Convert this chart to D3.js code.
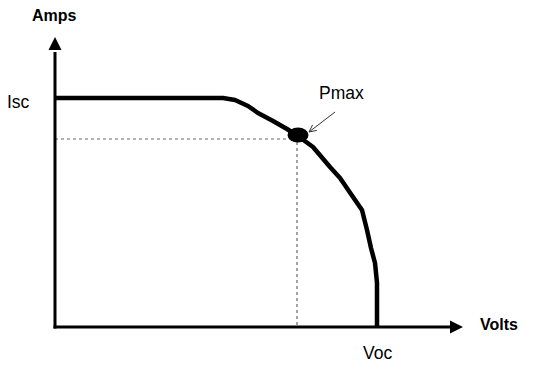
<!DOCTYPE html>
<html>
<head>
<meta charset="utf-8">
<script src="https://cdn.jsdelivr.net/npm/d3@7"></script>
<style>
html,body{margin:0;padding:0;background:#fff;}
text{font-family:"Liberation Sans",Arial,sans-serif;}
</style>
</head>
<body>
<svg id="chart" width="540" height="369"></svg>
<script>
// Data (arbitrary units: volts along x, amps along y)
const voltage = [0, 168, 180, 193, 203, 218, 232, 243, 258, 275, 285, 298, 307, 312, 316, 320, 322, 322];
const current = [229, 229, 227, 221, 214, 206, 198, 191, 180, 160, 149, 130, 117, 97, 79, 64, 44, 0];
const pmax = {v: 243, i: 191};
const axisLabels = {x: "Volts", y: "Amps"};
const markerLabels = {isc: "Isc", voc: "Voc", pmax: "Pmax"};
const isc = 229, voc = 322;

const svg = d3.select("#chart");
const x = d3.scaleLinear().domain([0, 410]).range([55, 465]);
const y = d3.scaleLinear().domain([0, 290]).range([327, 37]);

// dashed guides
svg.append("line").attr("x1", x(0)).attr("x2", x(pmax.v)).attr("y1", y(pmax.i) + 3).attr("y2", y(pmax.i) + 3)
  .attr("stroke", "#666").attr("stroke-width", 1.2).attr("stroke-dasharray", "3,3");
svg.append("line").attr("x1", x(pmax.v) - 1).attr("x2", x(pmax.v) - 1).attr("y1", y(pmax.i)).attr("y2", y(0))
  .attr("stroke", "#666").attr("stroke-width", 1.2).attr("stroke-dasharray", "3,3");

// axes
svg.append("line").attr("x1", x(0)).attr("x2", x(0)).attr("y1", y(0) + 1.5).attr("y2", y(275))
  .attr("stroke", "#000").attr("stroke-width", 3);
svg.append("line").attr("x1", x(0) - 1.5).attr("x2", x(395)).attr("y1", y(0)).attr("y2", y(0))
  .attr("stroke", "#000").attr("stroke-width", 3);
// arrowheads
svg.append("path").attr("d", `M${x(0)},${y(290)} L${x(0)-6.5},${y(277)} L${x(0)+6.5},${y(277)} Z`).attr("fill", "#000");
svg.append("path").attr("d", `M${x(408)},${y(0)} L${x(395)},${y(0)-6.5} L${x(395)},${y(0)+6.5} Z`).attr("fill", "#000");

// IV curve
const pts = voltage.map((v, k) => [v, current[k]]);
const line = d3.line().x(d => x(d[0])).y(d => y(d[1])).curve(d3.curveLinear);
svg.append("path").datum(pts).attr("d", line).attr("fill", "none")
  .attr("stroke", "#000").attr("stroke-width", 4.5).attr("stroke-linejoin", "round").attr("stroke-linecap", "butt");

// Pmax dot
svg.append("ellipse").attr("cx", x(pmax.v)).attr("cy", y(pmax.i) - 1).attr("rx", 10.5).attr("ry", 7.5).attr("fill", "#000");

// pointer arrow
const ax1 = x(pmax.v) + 37, ay1 = y(pmax.i) - 24, ax2 = x(pmax.v) + 11, ay2 = y(pmax.i) - 4;
svg.append("line").attr("x1", ax1).attr("y1", ay1).attr("x2", ax2).attr("y2", ay2).attr("stroke", "#333").attr("stroke-width", 1);
const ang = Math.atan2(ay2 - ay1, ax2 - ax1);
const hl = 8, hw = 0.45;
svg.append("path").attr("d",
  `M${ax2 - hl*Math.cos(ang - hw)},${ay2 - hl*Math.sin(ang - hw)} L${ax2},${ay2} L${ax2 - hl*Math.cos(ang + hw)},${ay2 - hl*Math.sin(ang + hw)}`)
  .attr("fill", "none").attr("stroke", "#333").attr("stroke-width", 1);

// labels
svg.append("text").attr("x", 32).attr("y", 21).attr("font-size", 16).attr("font-weight", "bold").text(axisLabels.y);
svg.append("text").attr("x", 480).attr("y", 330).attr("font-size", 16).attr("font-weight", "bold").text(axisLabels.x);
svg.append("text").attr("x", 7).attr("y", y(isc) + 10).attr("font-size", 17.5).text(markerLabels.isc);
svg.append("text").attr("x", x(voc) - 14).attr("y", 359).attr("font-size", 17.5).text(markerLabels.voc);
svg.append("text").attr("x", 319).attr("y", 99).attr("font-size", 17.5).text(markerLabels.pmax);
</script>
</body>
</html>
